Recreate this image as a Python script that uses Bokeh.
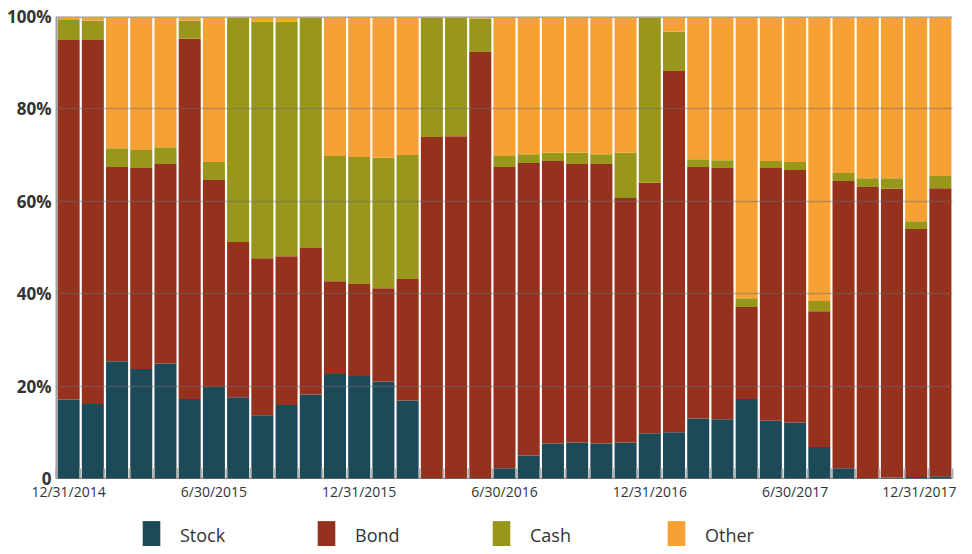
from bokeh.plotting import figure
from bokeh.models import FixedTicker, Legend, LegendItem, Range1d, Span
from bokeh.layouts import column
from bokeh.embed import file_html
from bokeh.resources import INLINE

# ---- data (percent of portfolio, month ends 12/31/2014 .. 12/31/2017) ----
stock = [17.1, 16.1, 25.4, 23.7, 24.9, 17.2, 19.8, 17.6, 13.7, 15.9, 18.2, 22.6, 22.2,
         21.0, 16.9, 0.0, 0.0, 0.0, 2.2, 5.0, 7.6, 7.8, 7.6, 7.8, 9.8, 10.0, 13.0, 12.8,
         17.2, 12.5, 12.1, 6.8, 2.2, 0.0, 0.2, 0.3, 0.5]
bond = [77.8, 78.8, 42.0, 43.5, 43.2, 78.0, 44.8, 33.6, 34.0, 32.2, 31.7, 20.1, 19.9,
        20.2, 26.3, 73.9, 74.1, 92.3, 65.2, 63.3, 61.1, 60.3, 60.5, 52.9, 54.2, 78.2,
        54.4, 54.4, 19.9, 54.7, 54.7, 29.4, 62.2, 63.1, 62.5, 53.7, 62.3]
cash = [4.5, 4.2, 4.1, 3.9, 3.6, 3.9, 3.9, 48.6, 51.2, 50.8, 49.8, 27.1, 27.5, 28.2,
        26.8, 26.1, 25.9, 7.2, 2.4, 1.9, 1.8, 2.4, 2.1, 9.8, 36.0, 8.5, 1.7, 1.7, 1.9,
        1.5, 1.7, 2.2, 1.7, 1.9, 2.3, 1.7, 2.7]
other = [0.6, 0.9, 28.5, 28.9, 28.3, 0.9, 31.5, 0.2, 1.1, 1.1, 0.3, 30.2, 30.4, 30.6,
         30.0, 0.0, 0.0, 0.5, 30.2, 29.8, 29.5, 29.5, 29.8, 29.5, 0.0, 3.3, 30.9, 31.1,
         61.0, 31.3, 31.5, 61.6, 33.9, 35.0, 35.0, 44.3, 34.5]
series = ["Stock", "Bond", "Cash", "Other"]
x_tick_labels = ["12/31/2014", "6/30/2015", "12/31/2015", "6/30/2016",
                 "12/31/2016", "6/30/2017", "12/31/2017"]
y_ticks = [0, 20, 40, 60, 80, 100]
y_tick_labels = ["0", "20%", "40%", "60%", "80%", "100%"]

colors = ["#1c4a59", "#95311d", "#98961b", "#f6a134"]

n = len(stock)
xs = list(range(n))
data = dict(x=xs, Stock=stock, Bond=bond, Cash=cash, Other=other)

p = figure(width=956, height=508, output_backend="svg", toolbar_location=None,
           x_range=Range1d(-0.5, n - 0.5), y_range=Range1d(0, 100),
           min_border_left=56, min_border_right=4, min_border_top=16,
           min_border_bottom=30)
p.outline_line_color = None
p.background_fill_color = "white"

p.vbar_stack(series, x="x", width=0.91, source=data, color=colors, line_color=None)

# grid drawn over bars
p.xgrid.visible = False
p.ygrid.ticker = FixedTicker(ticks=y_ticks)
p.ygrid.grid_line_color = "#6f6f6f"
p.ygrid.grid_line_alpha = 0.45
p.ygrid.grid_line_width = 1.5
p.ygrid.level = "overlay"
p.add_layout(Span(location=100, dimension="width", line_color="#a8a8a8",
                  line_width=3, level="overlay"))

# y axis
yax = p.yaxis[0]
yax.ticker = FixedTicker(ticks=y_ticks)
yax.major_label_overrides = {t: l for t, l in zip(y_ticks, y_tick_labels)}
yax.major_label_text_font = "Open Sans"
yax.major_label_text_font_style = "bold"
yax.major_label_text_font_size = "17px"
yax.major_label_text_color = "#333333"
yax.major_tick_line_color = None
yax.major_tick_in = 0
yax.major_tick_out = 0
yax.minor_tick_line_color = None
yax.minor_tick_in = 0
yax.minor_tick_out = 0
yax.axis_line_color = "#a0a0a0"
yax.axis_line_width = 2
yax.major_label_standoff = 5

# x axis
xax = p.xaxis[0]
major = [i for i in range(0, n, 6)]
xax.ticker = FixedTicker(ticks=major, minor_ticks=[i - 0.5 for i in range(n + 1)])
xax.major_label_overrides = {t: l for t, l in zip(major, x_tick_labels)}
xax.major_label_text_font = "Open Sans"
xax.major_label_text_font_size = "14px"
xax.major_label_text_color = "#333333"
xax.major_tick_line_color = None
xax.major_tick_in = 0
xax.major_tick_out = 0
xax.minor_tick_in = 10
xax.minor_tick_out = 0
xax.minor_tick_line_color = "#b0b0b0"
xax.minor_tick_line_width = 2
xax.axis_line_color = "#333333"
xax.axis_line_alpha = 0.7
xax.major_label_standoff = 3

# ---- legend strip below the chart ----
lg = figure(width=956, height=38, output_backend="svg", toolbar_location=None,
            x_range=Range1d(-0.5, n - 0.5), y_range=Range1d(1000, 1001),
            x_axis_location=None, y_axis_location=None,
            min_border_left=56, min_border_right=4, min_border_top=0, min_border_bottom=0)
lg.outline_line_color = None
lg.xgrid.visible = False
lg.ygrid.visible = False
leg_renderers = lg.vbar_stack(series, x="x", width=0.91, source=data, color=colors,
                              line_color=None)

legend = Legend(items=[LegendItem(label=s, renderers=[r]) for s, r in zip(series, leg_renderers)],
                orientation="horizontal", glyph_width=22, glyph_height=36,
                label_width=135, label_height=36, label_standoff=18, spacing=0,
                padding=0, margin=0,
                label_text_font="Open Sans", label_text_font_size="18px",
                label_text_color="#333333", border_line_color=None,
                background_fill_alpha=0, location=(84, -7))
lg.add_layout(legend, "center")

open("out.html", "w").write(file_html(column(p, lg, spacing=0), INLINE))
